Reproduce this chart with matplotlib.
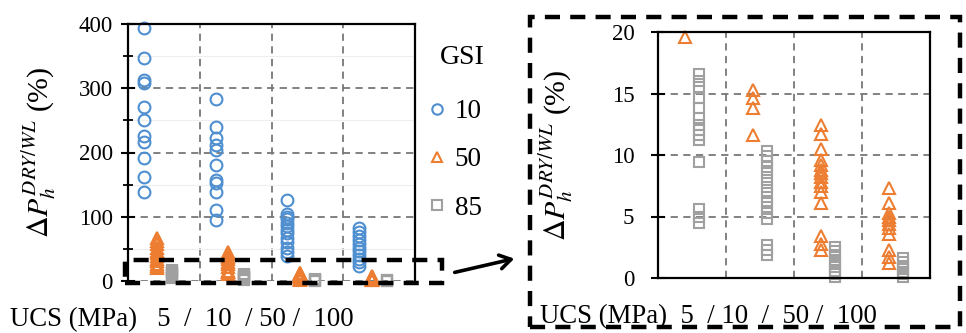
import numpy as np
import matplotlib
matplotlib.use("Agg")
import matplotlib.pyplot as plt
from matplotlib.patches import Rectangle, FancyArrowPatch
from matplotlib.ticker import MultipleLocator

plt.rcParams['font.family'] = ['Liberation Serif', 'DejaVu Serif']
plt.rcParams['mathtext.fontset'] = 'stix'

# UCS groups (5 / 10 / 50 / 100 MPa), values of dP_h DRY/WL (%)
ucs = ["5", "10", "50", "100"]
gsi10 = [
    [393, 347, 313, 308, 271, 251, 225, 217, 191, 162, 139],
    [284, 240, 222, 212, 204, 181, 157, 152, 139, 110, 95],
    [126, 105, 100, 96, 91, 86, 80, 74, 67, 60, 52, 45, 39],
    [82, 76, 70, 64, 58, 52, 47, 41, 35, 29, 24],
]
gsi50 = [
    [19.6, 23, 27, 31, 35, 39, 43, 47, 52, 57, 62, 67],
    [15.3, 14.6, 13.8, 11.6, 22, 26, 30, 34, 38, 42, 45],
    [12.4, 11.7, 10.5, 9.6, 9.2, 8.8, 8.5, 8.2, 7.8, 7.5, 7.0, 6.1, 3.4, 2.8, 2.3],
    [7.3, 6.1, 5.3, 5.0, 4.7, 4.4, 4.1, 3.6, 2.3, 1.7, 1.2],
]
gsi85 = [
    [16.6, 16.0, 15.5, 14.6, 13.8, 13.0, 12.4, 12.0, 11.6, 11.2, 9.4, 5.6, 5.0, 4.5],
    [10.3, 9.9, 9.5, 9.0, 8.5, 8.0, 7.4, 6.9, 6.3, 5.8, 5.3, 4.8, 2.7, 2.3, 1.9],
    [2.5, 2.2, 1.9, 1.5, 1.2, 0.9, 0.6, 0.3, 0.1],
    [1.6, 1.3, 1.0, 0.7, 0.5, 0.3, 0.1],
]

blue = '#4f8fd0'
orange = '#ed7d31'
grey = '#a0a0a0'

W, H = 966, 333
fig = plt.figure(figsize=(W / 100, H / 100), dpi=100)


def fx(x):
    return x / W


def fy(y):
    return 1 - y / H


def style_axes(ax):
    for s in ax.spines.values():
        s.set_linewidth(1.6)
    ax.set_xlim(0, 4)
    ax.set_xticks([1, 2, 3])
    ax.set_xticklabels([])
    ax.tick_params(axis='x', length=0)
    ax.tick_params(axis='y', direction='inout', length=10, width=1.5,
                   labelsize=16.5, pad=6)
    ax.grid(True, which='major', color='#777777', linestyle=(0, (4, 3)), linewidth=1.3)
    ax.set_axisbelow(True)


def scatter_groups(ax, ymax):
    for i in range(4):
        for vals, off, mk, col, ms in [(gsi10[i], 0.22, 'o', blue, 8.5),
                                      (gsi50[i], 0.40, '^', orange, 8),
                                      (gsi85[i], 0.61, 's', grey, 7)]:
            v = [y for y in vals if y <= ymax]
            if len(v) == 0:
                continue
            ax.plot([i + off] * len(v), v, linestyle='none', marker=mk, ms=ms,
                    mfc='none', mec=col, mew=1.5, clip_on=False)


ylab = r'$\Delta P_h^{DRY/WL}$ (%)'

# left (full range) chart
ax1 = fig.add_axes([fx(128), fy(281), (415 - 128) / W, (281 - 24) / H])
style_axes(ax1)
ax1.set_ylim(0, 400)
ax1.set_yticks([0, 100, 200, 300, 400])
ax1.yaxis.set_minor_locator(MultipleLocator(50))
ax1.tick_params(axis='y', which='minor', direction='inout', length=7, width=1.3)
ax1.grid(True, which='minor', axis='y', color='#eeeeee', linewidth=0.8)
ax1.spines['bottom'].set_visible(False)
scatter_groups(ax1, 1000)
ax1.set_ylabel(ylab, fontsize=21.5, labelpad=14)

# legend
h1, = ax1.plot([], [], 'o', mfc='none', mec=blue, mew=1.5, ms=7.5, label='10')
h2, = ax1.plot([], [], '^', mfc='none', mec=orange, mew=1.5, ms=7.5, label='50')
h3, = ax1.plot([], [], 's', mfc='none', mec=grey, mew=1.5, ms=7.5, label='85')
leg = fig.legend(handles=[h1, h2, h3], frameon=False, fontsize=19.5,
                 loc='upper left', bbox_to_anchor=(fx(429), fy(99)),
                 bbox_transform=fig.transFigure,
                 handlelength=0.6, handletextpad=0.35, labelspacing=0.86,
                 borderpad=0, borderaxespad=0.0)
fig.text(fx(462), fy(57), 'GSI', fontsize=20, ha='center', va='center')

# right (zoom 0-20) chart
ax2 = fig.add_axes([fx(658), fy(278), (930 - 658) / W, (278 - 32) / H])
style_axes(ax2)
ax2.set_ylim(0, 20)
ax2.set_yticks([0, 5, 10, 15, 20])
ax2.tick_params(axis='y', pad=12)
scatter_groups(ax2, 20)
ax2.set_ylabel(ylab, fontsize=21.5, labelpad=26)

# x captions
fig.text(fx(10), fy(326), 'UCS (MPa)   5  /  10  / 50 /  100', fontsize=19.3,
         ha='left', va='baseline')
fig.text(fx(540), fy(323), 'UCS (MPa)  5  / 10  /  50 /  100', fontsize=19.3,
         ha='left', va='baseline')

# dashed boxes and arrow
dash = (0, (3.4, 2.3))
small = Rectangle((fx(125), fy(283)), fx(442) - fx(125), fy(260) - fy(283),
                  transform=fig.transFigure, fill=False, edgecolor='black',
                  linewidth=3.2, linestyle=dash, zorder=10)
big = Rectangle((fx(530), fy(327)), fx(960) - fx(530), fy(17) - fy(327),
                transform=fig.transFigure, fill=False, edgecolor='black',
                linewidth=3.2, linestyle=dash, zorder=10)
fig.patches.extend([small, big])
arr = FancyArrowPatch((fx(452), fy(273)), (fx(517), fy(258)),
                      transform=fig.transFigure, arrowstyle='->,head_length=8,head_width=5',
                      color='black', linewidth=2.6, zorder=10)
fig.patches.append(arr)

fig.savefig('out.png', dpi=100)
